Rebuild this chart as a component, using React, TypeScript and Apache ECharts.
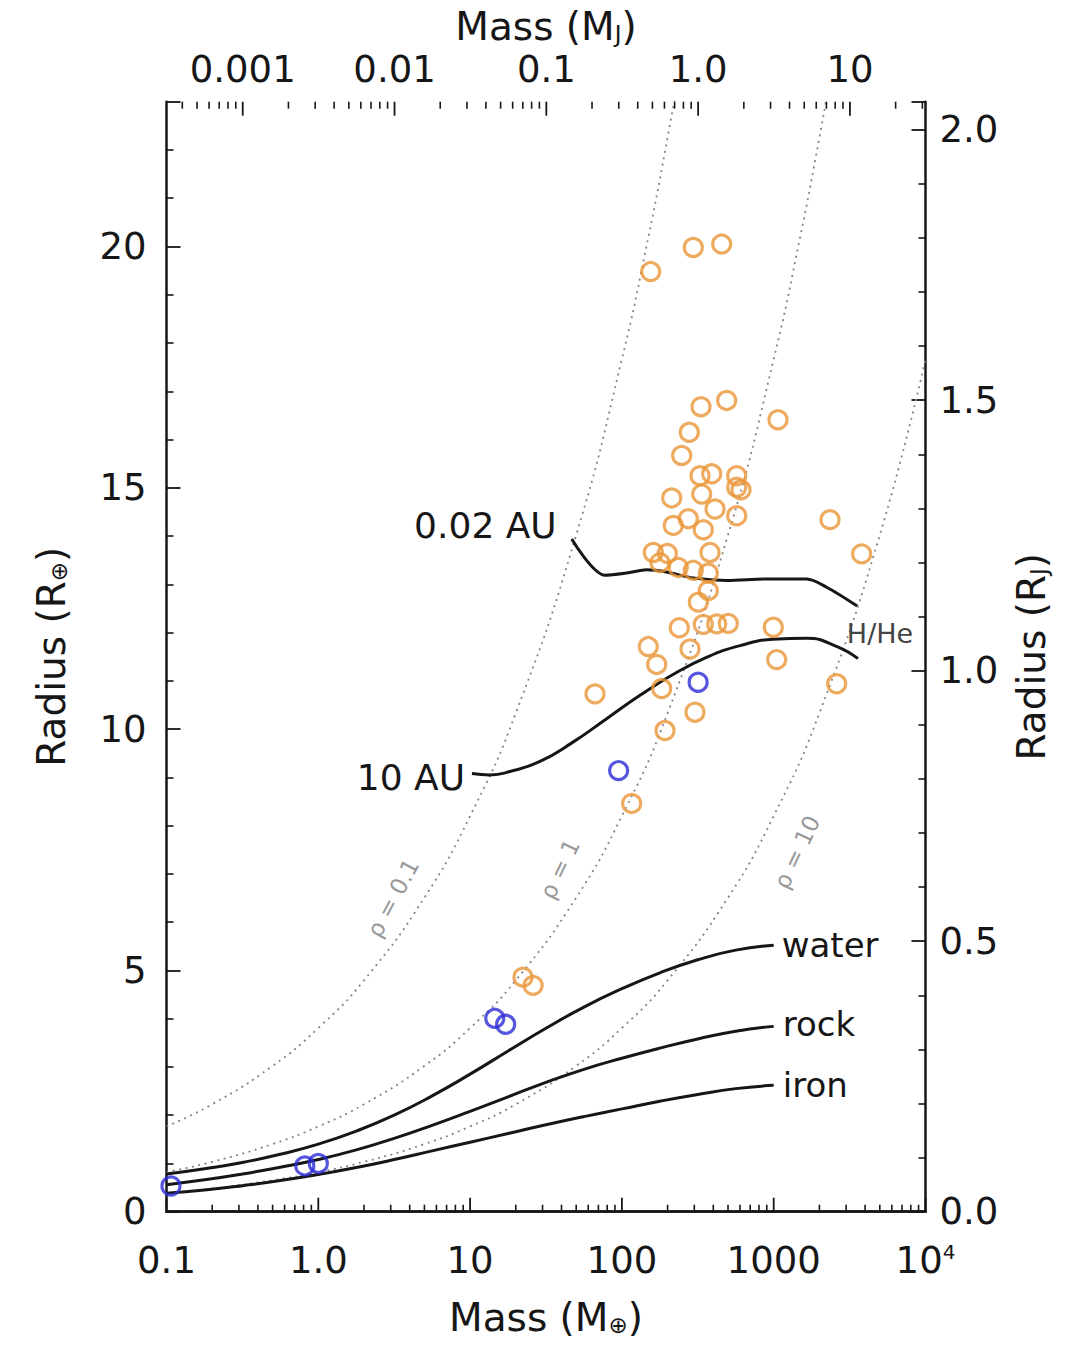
import React, { useEffect, useRef } from "react";
import * as echarts from "echarts";

const FONT = '"DejaVu Sans", sans-serif';
const INK = "#161616";
const DOT = "#858585";
const ORANGE = "#EA9637";
const BLUE = "#2B2BD6";

const EARTH_MASSES_PER_MJ = 317.8;
const EARTH_RADII_PER_RJ = 11.21;
const MASS_MIN = 0.1;
const MASS_MAX = 10000;
const RADIUS_MAX = 23;

// Axis tick labels
const bottomExponents = [-1, 0, 1, 2, 3, 4];
const bottomLabels = ["0.1", "1.0", "10", "100", "1000", "10{sup|4}"];
const topExponents = [-3, -2, -1, 0, 1];
const topLabels = ["0.001", "0.01", "0.1", "1.0", "10"];

// Solid-planet models (mass in Earth masses, radius in Earth radii)
const modelMass = [0.1, 0.178, 0.316, 0.562, 1, 1.78, 3.16, 5.62, 10, 17.8, 31.6, 56.2, 100, 178, 316, 562, 1000];
const waterRadius = [0.78, 0.89, 1.02, 1.19, 1.4, 1.67, 2.0, 2.4, 2.85, 3.33, 3.8, 4.24, 4.62, 4.95, 5.22, 5.42, 5.52];
const rockRadius = [0.56, 0.66, 0.78, 0.92, 1.08, 1.28, 1.52, 1.79, 2.08, 2.38, 2.68, 2.95, 3.18, 3.39, 3.58, 3.74, 3.84];
const ironRadius = [0.38, 0.45, 0.54, 0.645, 0.77, 0.915, 1.08, 1.26, 1.44, 1.62, 1.8, 1.97, 2.13, 2.29, 2.43, 2.55, 2.62];

// H/He giant planets at 0.02 AU and 10 AU
const hotMass = [46.7, 77.4, 110, 145.6, 200, 295, 490, 899, 1649, 2234, 3550];
const hotRadius = [13.94, 13.19, 13.24, 13.3, 13.25, 13.13, 13.08, 13.11, 13.11, 12.94, 12.55];
const coldMass = [10.29, 13.52, 18.31, 28.87, 47.62, 79.75, 131.6, 217, 363.6, 599.8, 989.5, 1657, 2612, 3592];
const coldRadius = [9.08, 9.05, 9.12, 9.33, 9.73, 10.22, 10.7, 11.13, 11.49, 11.73, 11.86, 11.88, 11.71, 11.46];

// Constant-density curves (g cm^-3)
const rho01Mass = [0.1, 0.2, 0.5, 1, 2, 5, 10, 20, 50, 100, 150, 200, 250];
const rho01Radius = [1.767, 2.226, 3.021, 3.806, 4.795, 6.508, 8.2, 10.331, 14.021, 17.666, 20.222, 22.258, 23.976];
const rho1Mass = [0.1, 0.2, 0.5, 1, 2, 5, 10, 20, 50, 100, 200, 500, 1000, 1500, 2000, 2500];
const rho1Radius = [0.82, 1.033, 1.402, 1.767, 2.226, 3.021, 3.806, 4.795, 6.508, 8.2, 10.331, 14.021, 17.666, 20.222, 22.258, 23.976];
const rho10Mass = [0.1, 0.2, 0.5, 1, 2, 5, 10, 20, 50, 100, 200, 500, 1000, 2000, 5000, 10000];
const rho10Radius = [0.381, 0.479, 0.651, 0.82, 1.033, 1.402, 1.767, 2.226, 3.021, 3.806, 4.795, 6.508, 8.2, 10.331, 14.021, 17.666];

// Transiting exoplanets
const exoMass = [
  154.8, 295.4, 454.3, 332, 490, 1067, 278, 247.7, 327, 390.5, 570.5, 570.5, 609, 335.5, 212.9, 410.6,
  570.5, 218.1, 273.8, 343.8, 2349, 3798, 161, 199.1, 178.2, 235.2, 295.4, 370.9, 380.6, 370.9, 318.7,
  238.8, 343.8, 421.3, 502.1, 994, 149.2, 281, 169.6, 66.5, 182.9, 303, 192.3, 116, 1046, 2600, 22.3, 26,
];
const exoRadius = [
  19.48, 19.98, 20.05, 16.68, 16.81, 16.41, 16.15, 15.67, 15.25, 15.29, 15.25, 15.01, 14.96, 14.87, 14.79, 14.56,
  14.42, 14.22, 14.36, 14.13, 14.34, 13.63, 13.66, 13.64, 13.45, 13.35, 13.29, 13.23, 13.66, 12.87, 12.63,
  12.1, 12.17, 12.18, 12.19, 12.11, 11.71, 11.66, 11.34, 10.73, 10.84, 10.35, 9.97, 8.46, 11.44, 10.94, 4.86, 4.69,
];

// Solar-system planets: Mars, Venus, Earth, Uranus, Neptune, Saturn, Jupiter
const solarMass = [0.107, 0.815, 1.0, 14.54, 17.15, 95.16, 317.8];
const solarRadius = [0.532, 0.949, 1.0, 4.007, 3.883, 9.14, 10.97];

const pairs = (xs: number[], ys: number[]) => xs.map((x, i) => [x, ys[i]]);

function logMajorTicks(lo: number, hi: number): number[] {
  const out: number[] = [];
  for (let e = Math.ceil(Math.log10(lo) - 1e-9); e <= Math.floor(Math.log10(hi) + 1e-9); e++) {
    out.push(Math.pow(10, e));
  }
  return out;
}

function logMinorTicks(lo: number, hi: number): number[] {
  const out: number[] = [];
  for (let e = Math.floor(Math.log10(lo)); e <= Math.ceil(Math.log10(hi)); e++) {
    for (let k = 2; k <= 9; k++) {
      const v = k * Math.pow(10, e);
      if (v > lo * 1.0001 && v < hi * 0.9999) out.push(v);
    }
  }
  return out;
}

function decadeLabel(exps: number[], labels: string[]) {
  return (v: number) => {
    const l = Math.log10(v);
    const e = Math.round(l);
    if (Math.abs(l - e) > 0.01) return "";
    const i = exps.indexOf(e);
    return i < 0 ? "" : labels[i];
  };
}

const LABEL_SIZE = 37;
const TITLE_SIZE = 39;

const titleStyle = {
  fontSize: TITLE_SIZE,
  fontFamily: FONT,
  color: INK,
  rich: {
    sub: { fontSize: 23, fontFamily: FONT, color: INK, verticalAlign: "bottom" as const, padding: [16, 0, 0, 0] },
  },
};

// Tick marks along a mass axis, drawn through that axis' own log scale
const tickSeries = (xAxisIndex: number, values: number[], yVal: number, dir: number, len: number, width: number) => ({
  type: "custom" as const,
  xAxisIndex,
  yAxisIndex: 0,
  silent: true,
  clip: false,
  z: 6,
  data: values.map((v) => [v, yVal]),
  encode: { x: 0, y: 1 },
  renderItem: (_params: any, api: any) => {
    const p = api.coord([api.value(0), api.value(1)]);
    return {
      type: "line",
      shape: { x1: p[0], y1: p[1], x2: p[0], y2: p[1] + dir * len },
      style: { stroke: INK, lineWidth: width },
    };
  },
});

const densitySeries = (data: number[][]) => ({
  type: "line" as const,
  data,
  smooth: true,
  symbol: "none",
  silent: true,
  z: 1,
  lineStyle: { color: DOT, width: 1.8, type: [2, 4.5] as any },
});

const modelSeries = (data: number[][], smooth: number) => ({
  type: "line" as const,
  data,
  smooth,
  symbol: "none",
  silent: true,
  z: 3,
  lineStyle: { color: INK, width: 3 },
});

export default function App() {
  const ref = useRef<HTMLDivElement>(null);

  useEffect(() => {
    document.body.style.margin = "0";
    if (!ref.current) return;
    const chart = echarts.init(ref.current, null, { renderer: "svg" });

    const jMin = MASS_MIN / EARTH_MASSES_PER_MJ;
    const jMax = MASS_MAX / EARTH_MASSES_PER_MJ;

    const option: any = {
      animation: false,
      backgroundColor: "#ffffff",
      grid: { left: 166.5, right: 156.5, top: 101.7, bottom: 134.3, containLabel: false },
      xAxis: [
        {
          type: "log",
          logBase: 10,
          min: MASS_MIN,
          max: MASS_MAX,
          position: "bottom",
          axisLine: { lineStyle: { color: INK, width: 2.5 } },
          axisTick: { show: false },
          axisLabel: {
            margin: 30,
            interval: 0,
            fontSize: LABEL_SIZE,
            fontFamily: FONT,
            color: INK,
            formatter: decadeLabel(bottomExponents, bottomLabels),
            rich: { sup: { fontSize: 20, fontFamily: FONT, color: INK, verticalAlign: "top", padding: [0, 0, 16, 0] } },
          },
          splitLine: { show: false },
          name: "Mass (M{sub|⊕})",
          nameLocation: "middle",
          nameGap: 86,
          nameTextStyle: titleStyle,
        },
        {
          type: "log",
          logBase: 10,
          min: jMin,
          max: jMax,
          position: "top",
          axisLine: { lineStyle: { color: INK, width: 2.5 } },
          axisTick: { show: false },
          axisLabel: {
            margin: 14,
            interval: 0,
            fontSize: LABEL_SIZE,
            fontFamily: FONT,
            color: INK,
            formatter: decadeLabel(topExponents, topLabels),
          },
          splitLine: { show: false },
          name: "Mass (M{sub|J})",
          nameLocation: "middle",
          nameGap: 52,
          nameTextStyle: titleStyle,
        },
      ],
      yAxis: [
        {
          type: "value",
          min: 0,
          max: RADIUS_MAX,
          interval: 5,
          position: "left",
          axisLine: { lineStyle: { color: INK, width: 2.5 } },
          axisTick: { inside: true, length: 14, lineStyle: { color: INK, width: 1.8 } },
          minorTick: { show: true, splitNumber: 5, length: 7, lineStyle: { color: INK, width: 1.6 } },
          axisLabel: {
            margin: 20,
            fontSize: LABEL_SIZE,
            fontFamily: FONT,
            color: INK,
            formatter: (v: number) => (Math.abs(v % 5) < 1e-6 ? String(v) : ""),
          },
          splitLine: { show: false },
          name: "Radius (R{sub|⊕})",
          nameLocation: "middle",
          nameGap: 96,
          nameTextStyle: titleStyle,
        },
        {
          type: "value",
          min: 0,
          max: RADIUS_MAX / EARTH_RADII_PER_RJ,
          interval: 0.5,
          position: "right",
          axisLine: { lineStyle: { color: INK, width: 2.5 } },
          axisTick: { inside: true, length: 14, lineStyle: { color: INK, width: 1.8 } },
          minorTick: { show: true, splitNumber: 5, length: 7, lineStyle: { color: INK, width: 1.6 } },
          axisLabel: {
            margin: 14,
            fontSize: LABEL_SIZE,
            fontFamily: FONT,
            color: INK,
            formatter: (v: number) => (Math.abs(v * 2 - Math.round(v * 2)) < 1e-6 ? v.toFixed(1) : ""),
          },
          splitLine: { show: false },
          name: "Radius (R{sub|J})",
          nameLocation: "middle",
          nameGap: 86,
          nameTextStyle: titleStyle,
        },
      ],
      series: [
        densitySeries(pairs(rho01Mass, rho01Radius)),
        densitySeries(pairs(rho1Mass, rho1Radius)),
        densitySeries(pairs(rho10Mass, rho10Radius)),
        modelSeries(pairs(modelMass, waterRadius), 0.5),
        modelSeries(pairs(modelMass, rockRadius), 0.5),
        modelSeries(pairs(modelMass, ironRadius), 0.5),
        modelSeries(pairs(hotMass, hotRadius), 0.3),
        modelSeries(pairs(coldMass, coldRadius), 0.5),
        {
          type: "scatter",
          data: pairs(exoMass, exoRadius),
          symbol: "circle",
          symbolSize: 18,
          z: 4,
          itemStyle: { color: "rgba(255,255,255,0)", borderColor: ORANGE, borderWidth: 3.2 },
        },
        {
          type: "scatter",
          data: pairs(solarMass, solarRadius),
          symbol: "circle",
          symbolSize: 18,
          z: 5,
          itemStyle: { color: "rgba(255,255,255,0)", borderColor: BLUE, borderWidth: 3.2 },
        },
        tickSeries(0, logMajorTicks(MASS_MIN, MASS_MAX), 0, -1, 14, 1.8),
        tickSeries(0, logMinorTicks(MASS_MIN, MASS_MAX), 0, -1, 7, 1.6),
        tickSeries(1, logMajorTicks(jMin, jMax), RADIUS_MAX, 1, 14, 1.8),
        tickSeries(1, logMinorTicks(jMin, jMax), RADIUS_MAX, 1, 7, 1.6),
      ],
    };

    chart.setOption(option);

    const px = (m: number, r: number) =>
      chart.convertToPixel({ xAxisIndex: 0, yAxisIndex: 0 }, [m, r]) as number[];

    const text = (
      at: number[],
      dx: number,
      dy: number,
      str: string,
      size: number,
      align: string,
      fill = INK,
      rotation = 0
    ) => ({
      type: "text",
      x: at[0] + dx,
      y: at[1] + dy,
      rotation,
      z: 10,
      style: {
        text: str,
        fill,
        fontSize: size,
        fontFamily: FONT,
        align,
        verticalAlign: "middle",
        textAlign: align,
        textVerticalAlign: "middle",
      },
    });

    const last = (a: number[]) => a[a.length - 1];
    const waterEnd = px(last(modelMass), last(waterRadius));
    const rockEnd = px(last(modelMass), last(rockRadius));
    const ironEnd = px(last(modelMass), last(ironRadius));
    const hotStart = px(hotMass[0], hotRadius[0]);
    const coldStart = px(coldMass[0], coldRadius[0]);
    const coldEnd = px(last(coldMass), last(coldRadius));

    chart.setOption({
      graphic: [
        text(waterEnd, 8, 0, "water", 34, "left"),
        text(rockEnd, 9, -2, "rock", 34, "left"),
        text(ironEnd, 9, 0, "iron", 34, "left"),
        text(hotStart, -15, -13, "0.02 AU", 36, "right"),
        text(coldStart, -7, 4, "10 AU", 36, "right"),
        text(coldEnd, 22, -25, "H/He", 27, "center", "#444444"),
        text(px(3.1, 6.5), 0, 0, "ρ = 0.1", 23, "center", "#999999", 1.08),
        text(px(39, 7.1), 0, 0, "ρ = 1", 23, "center", "#999999", 1.13),
        text(px(1422, 7.45), 0, 0, "ρ = 10", 23, "center", "#999999", 1.13),
      ],
    });

    return () => chart.dispose();
  }, []);

  return <div ref={ref} style={{ width: 1082, height: 1346 }} />;
}
